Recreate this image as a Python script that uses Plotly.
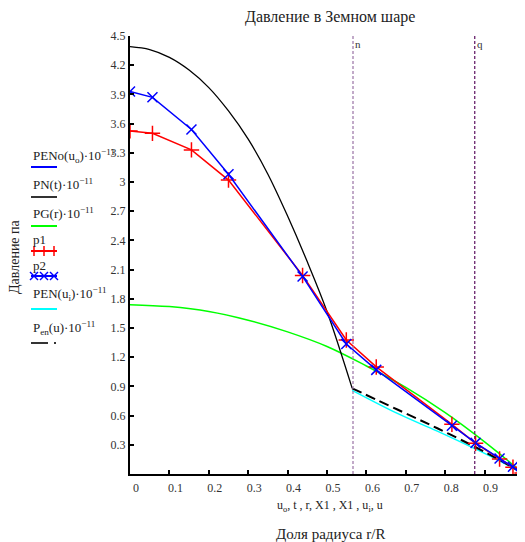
import plotly.graph_objects as go

# ---------------- data ----------------
# p1 / p2 sample points (u_o)
u_o = [0.0, 0.057, 0.156, 0.25, 0.438, 0.549, 0.625, 0.817, 0.877, 0.938, 0.972, 0.995]
p1 = [3.525, 3.50, 3.33, 3.02, 2.04, 1.377, 1.10, 0.51, 0.315, 0.154, 0.069, 0.01]
p2 = [3.93, 3.87, 3.54, 3.08, 2.03, 1.336, 1.07, 0.495, 0.32, 0.16, 0.075, 0.01]

# PN(t) curve (black)
t = [0.0, 0.05, 0.1, 0.15, 0.2, 0.25, 0.3, 0.35, 0.4, 0.45, 0.5, 0.564]
PN = [4.39, 4.36, 4.28, 4.15, 3.97, 3.73, 3.44, 3.08, 2.65, 2.18, 1.67, 0.88]

# PG(r) curve (green)
r = [0.0, 0.1, 0.2, 0.3, 0.4, 0.5, 0.6, 0.7, 0.8, 0.9, 1.0]
PG = [1.74, 1.72, 1.67, 1.58, 1.46, 1.31, 1.11, 0.89, 0.63, 0.33, 0.0]

# PEN(u_i) curve (cyan)
u_i = [0.564, 0.68, 0.78, 0.875, 0.94, 1.0]
PEN_i = [0.86, 0.62, 0.44, 0.26, 0.13, 0.0]

# P_en(u) curve (black dashed)
u = [0.564, 0.68, 0.78, 0.875, 0.94, 1.0]
P_en = [0.88, 0.66, 0.47, 0.28, 0.14, 0.0]

# vertical markers
marker_names = ["n", "q"]
marker_pos = [0.566, 0.875]
marker_colors = ["#9a72a6", "#5c1060"]

x_ticks = [0, 0.1, 0.2, 0.3, 0.4, 0.5, 0.6, 0.7, 0.8, 0.9]
y_ticks = [0.3, 0.6, 0.9, 1.2, 1.5, 1.8, 2.1, 2.4, 2.7, 3.0, 3.3, 3.6, 3.9, 4.2, 4.5]
y_tick_text = ["0.3", "0.6", "0.9", "1.2", "1.5", "1.8", "2.1", "2.4", "2.7", "3", "3.3", "3.6", "3.9", "4.2", "4.5"]

# ---------------- layout helpers ----------------
OFF = 8  # page body margin
W, H = 525 - OFF, 542 - OFF
ML, MR, MT, MB = 130 - OFF, 1, 36 - OFF, 68
PW, PH = W - ML - MR, H - MT - MB


def px(xp):  # reference-screenshot x pixel -> paper
    return (xp - OFF - ML) / PW


def py(yp):  # reference-screenshot y pixel -> paper
    return (H - MB - (yp - OFF)) / PH


SERIF = "Liberation Serif, Times New Roman, DejaVu Serif, serif"

fig = go.Figure()

fig.add_trace(go.Scatter(x=r, y=PG, mode="lines", line=dict(color="#00ff00", width=1.5, shape="spline")))
fig.add_trace(go.Scatter(x=u_i, y=PEN_i, mode="lines", line=dict(color="#00ffff", width=1.5, shape="spline")))
fig.add_trace(go.Scatter(x=u, y=P_en, mode="lines", line=dict(color="black", width=2, dash="10px,5px", shape="spline")))
fig.add_trace(go.Scatter(x=t, y=PN, mode="lines", line=dict(color="black", width=1.3, shape="spline")))
fig.add_trace(go.Scatter(x=u_o, y=p1, mode="lines+markers", line=dict(color="#ff0000", width=1.5),
                         marker=dict(symbol="cross-thin", size=11, line=dict(color="#ff0000", width=1.5))))
fig.add_trace(go.Scatter(x=u_o, y=p2, mode="lines+markers", line=dict(color="#0000ff", width=1.5),
                         marker=dict(symbol="x-thin", size=10, line=dict(color="#0000ff", width=1.5))))

shapes = []
annotations = []
for name, pos, col in zip(marker_names, marker_pos, marker_colors):
    shapes.append(dict(type="line", xref="x", yref="paper", x0=pos, x1=pos, y0=0, y1=1,
                       line=dict(color=col, width=1.2, dash="3px,2px")))
    annotations.append(dict(x=pos, xref="x", y=py(44), yref="paper", text=name, showarrow=False,
                            xanchor="left", yanchor="middle",
                            font=dict(family=SERIF, size=11, color="#333")))

# ---------------- manual legend ----------------
leg_text = [
    ("PENo(u<sub>o</sub>)·10<sup>−11</sup>", 156),
    ("PN(t)·10<sup>−11</sup>", 184),
    ("PG(r)·10<sup>−11</sup>", 213),
    ("p1", 239),
    ("p2", 265),
    ("PEN(u<sub>i</sub>)·10<sup>−11</sup>", 294),
    ("P<sub>en</sub>(u)·10<sup>−11</sup>", 328),
]
for txt, yp in leg_text:
    annotations.append(dict(x=px(31), y=py(yp), xref="paper", yref="paper", text=txt, showarrow=False,
                            xanchor="left", yanchor="middle", font=dict(family=SERIF, size=13, color="#222")))

leg_lines = [(167, "#0000ff"), (197, "#333333"), (226, "#00ff00"),
             (251, "#ff0000"), (276, "#0000ff"), (309, "#00ffff")]
for yp, col in leg_lines:
    shapes.append(dict(type="line", xref="paper", yref="paper", x0=px(31), x1=px(57), y0=py(yp), y1=py(yp),
                       line=dict(color=col, width=2)))
# dashed sample
shapes.append(dict(type="line", xref="paper", yref="paper", x0=px(31), x1=px(48), y0=py(343), y1=py(343),
                   line=dict(color="#333333", width=2)))
shapes.append(dict(type="line", xref="paper", yref="paper", x0=px(54), x1=px(56), y0=py(343), y1=py(343),
                   line=dict(color="#333333", width=2)))
# + and x sample markers
for cx in (34, 44, 54):
    shapes.append(dict(type="line", xref="paper", yref="paper", x0=px(cx), x1=px(cx), y0=py(246), y1=py(256),
                       line=dict(color="#ff0000", width=1.5)))
    shapes.append(dict(type="line", xref="paper", yref="paper", x0=px(cx - 4), x1=px(cx + 4), y0=py(276 - 4), y1=py(276 + 4),
                       line=dict(color="#0000ff", width=1.5)))
    shapes.append(dict(type="line", xref="paper", yref="paper", x0=px(cx - 4), x1=px(cx + 4), y0=py(276 + 4), y1=py(276 - 4),
                       line=dict(color="#0000ff", width=1.5)))

# titles
annotations.append(dict(x=px(330), y=py(17), xref="paper", yref="paper", text="Давление в Земном шаре",
                        xanchor="center", yanchor="middle",
                        showarrow=False, font=dict(family=SERIF, size=16, color="#222")))
annotations.append(dict(x=px(330), y=py(506), xref="paper", yref="paper",
                        text="u<sub>o</sub>, t , r, X1 , X1 , u<sub>i</sub>, u",
                        xanchor="center", yanchor="middle",
                        showarrow=False, font=dict(family=SERIF, size=12, color="#222")))
annotations.append(dict(x=px(330), y=py(534), xref="paper", yref="paper", text="Доля радиуса r/R",
                        xanchor="center", yanchor="middle",
                        showarrow=False, font=dict(family=SERIF, size=15, color="#222")))
annotations.append(dict(x=px(15), y=py(257), xref="paper", yref="paper", text="Давление па", textangle=-90,
                        xanchor="center", yanchor="middle",
                        showarrow=False, font=dict(family=SERIF, size=14, color="#222")))

fig.update_layout(
    width=W, height=H,
    margin=dict(l=ML, r=MR, t=MT, b=MB),
    paper_bgcolor="white", plot_bgcolor="white",
    showlegend=False,
    shapes=shapes, annotations=annotations,
    xaxis=dict(range=[0, 1], tickvals=x_ticks, ticktext=[str(v) for v in x_ticks], showgrid=False, zeroline=False,
               showline=True, linecolor="black", linewidth=2, ticks="inside", ticklen=4, tickwidth=1.5,
               tickcolor="black", ticklabelshift=6, ticklabelstandoff=2,
               tickfont=dict(family=SERIF, size=12, color="#333")),
    yaxis=dict(range=[0, 4.5], tickvals=y_ticks, ticktext=y_tick_text, showgrid=False, zeroline=False,
               showline=True, linecolor="black", linewidth=2, ticks="inside", ticklen=4, tickwidth=1.5,
               tickcolor="black", ticklabelstandoff=0,
               tickfont=dict(family=SERIF, size=12, color="#333")),
)

fig.write_html("out.html")
